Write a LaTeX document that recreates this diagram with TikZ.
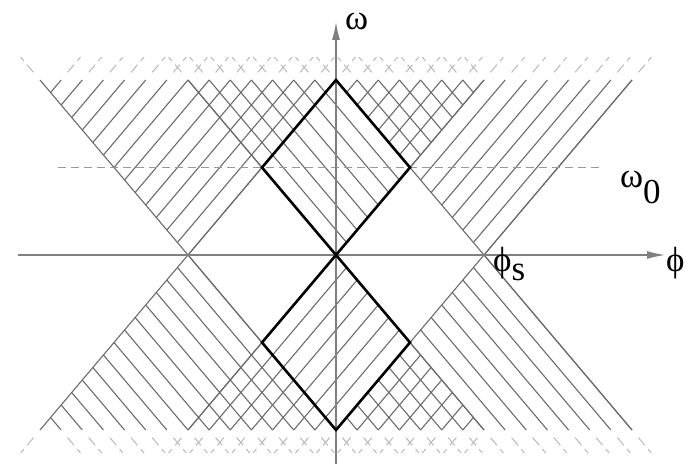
\documentclass[tikz,border=0pt]{standalone}
\usepackage{fontspec}
\setmainfont{Liberation Serif}
\usetikzlibrary{arrows.meta}
\definecolor{hatch}{gray}{0.42}
\definecolor{faint}{gray}{0.72}
\definecolor{axisgray}{gray}{0.5}
\begin{document}
\begin{tikzpicture}[x=74pt,y=87.5pt,
  hl/.style={draw=hatch, line width=1.1pt},
  ext/.style={draw=faint, line width=1pt, dash pattern=on 10pt off 5pt on 5pt off 10pt, dash phase=20pt},
  dia/.style={draw=black, line width=2.6pt, line join=miter},
  axisline/.style={draw=axisgray, line width=1.3pt},
  arrowaxis/.style={axisline, -{Latex[length=18pt,width=8pt]}},
  refline/.style={draw=axisgray!80, line width=1pt, dash pattern=on 8pt off 5pt},
  lab/.style={font=\fontsize{35}{38}\selectfont, inner sep=0pt, anchor=base west}]
\useasboundingbox (-336pt,-209pt) rectangle (350pt,255pt);

% ---- hatching: side cones ----
\foreach \k in {0,...,13}{
  \pgfmathsetmacro\c{-2-\k*2/7}
  \pgfmathsetmacro\yo{(-2-\c)/2}
  \draw[hl] (\c+\yo,\yo) -- (\c+2,2);
  \draw[ext] (\c+2,2) -- (\c+2.262,2.262);
  \draw[hl] (\c+\yo,-\yo) -- (\c+2,-2);
  \draw[ext] (\c+2,-2) -- (\c+2.262,-2.262);
  \pgfmathsetmacro\d{2-\k*2/7}
  \pgfmathsetmacro\yt{(2-\d)/2}
  \draw[hl] (\d+\yt,\yt) -- (\d+2,2);
  \draw[ext] (\d+2,2) -- (\d+2.262,2.262);
  \draw[hl] (\d+\yt,-\yt) -- (\d+2,-2);
  \draw[ext] (\d+2,-2) -- (\d+2.262,-2.262);
}
% ---- hatching: central cones ----
\foreach \k in {0,...,14}{
  \pgfmathsetmacro\a{\k*2/7}
  \draw[hl] (\a/2,\a/2) -- (\a-2,2);
  \draw[ext] (\a-2,2) -- (\a-2.262,2.262);
  \draw[hl] (\a/2,-\a/2) -- (\a-2,-2);
  \draw[ext] (\a-2,-2) -- (\a-2.262,-2.262);
}
% ---- cone edges ----
\coordinate (TL) at (-4,2);   \coordinate (BL) at (-4,-2);
\coordinate (TR) at (4,2);    \coordinate (BR) at (4,-2);
\coordinate (T0) at (0,2);    \coordinate (B0) at (0,-2);
\coordinate (TM) at (-2,2);   \coordinate (BM) at (-2,-2);
\coordinate (TP) at (2,2);    \coordinate (BP) at (2,-2);
\draw[hl] (TL) -- (B0);
\draw[hl] (BL) -- (T0);
\draw[hl] (T0) -- (BR);
\draw[hl] (B0) -- (TR);
\draw[hl] (TM) -- (BP);
\draw[hl] (BM) -- (TP);
\draw[ext] (TL) -- (-4.262,2.262);
\draw[ext] (BL) -- (-4.262,-2.262);

% ---- omega_0 reference line ----
\coordinate (w0a) at (-278pt,87.5pt);
\coordinate (w0b) at (264pt,87.5pt);
\draw[refline] (w0a) -- (w0b);

% ---- axes ----
\coordinate (xa) at (-318pt,0pt);
\coordinate (xb) at (329pt,0pt);
\coordinate (ya) at (0pt,-209pt);
\coordinate (yb) at (0pt,233pt);
\draw[arrowaxis] (xa) -- (xb);
\draw[arrowaxis] (ya) -- (yb);

% ---- diamonds ----
\coordinate (O) at (0,0);
\coordinate (DL) at (-1,1);  \coordinate (DR) at (1,1);
\coordinate (EL) at (-1,-1); \coordinate (ER) at (1,-1);
\draw[dia] (O) -- (DL) -- (T0) -- (DR) -- cycle;
\draw[dia] (O) -- (EL) -- (B0) -- (ER) -- cycle;

% ---- labels ----
\node[lab] (lw) at (9pt,225pt) {ω};
\node[lab] (lw0) at (284pt,68pt) {ω\raisebox{-16pt}{0}};
\node[lab] (lps) at (157pt,-16pt) {ϕ\raisebox{-9pt}{s}};
\node[lab] (lp) at (330pt,-16pt) {ϕ};
\end{tikzpicture}
\end{document}
